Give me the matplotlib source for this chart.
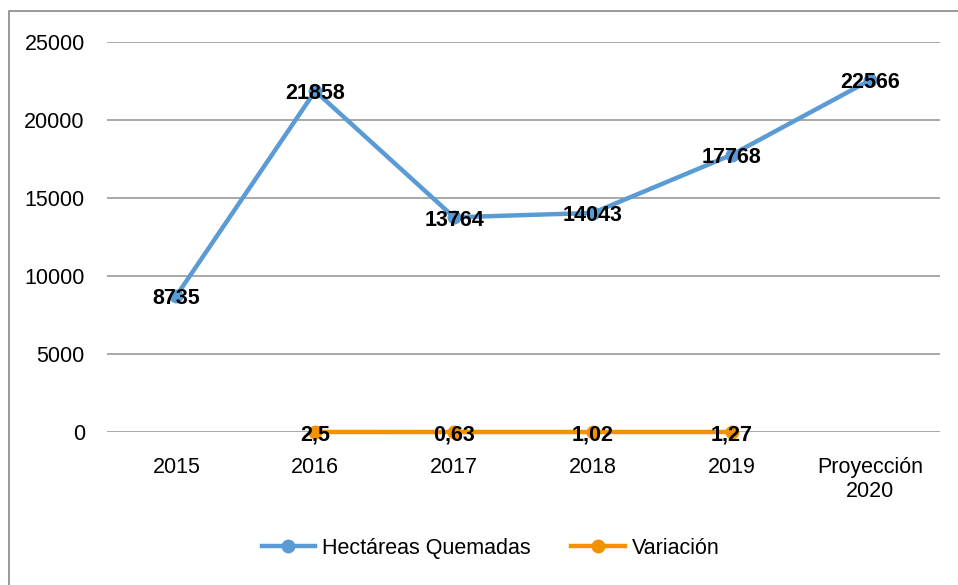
import numpy as np
import matplotlib.pyplot as plt
from matplotlib.patches import Rectangle

plt.rcParams['font.family'] = ['Liberation Sans', 'DejaVu Sans']

# datos
categorias = ['2015', '2016', '2017', '2018', '2019', 'Proyección\n2020']
hectareas = [8735, 21858, 13764, 14043, 17768, 22566]
variacion = [np.nan, 2.5, 0.63, 1.02, 1.27, np.nan]
etiq_variacion = ['', '2,5', '0,63', '1,02', '1,27', '']

azul = '#5B9BD5'
naranja = '#F39200'
fs = 15.5

fig = plt.figure(figsize=(9.58, 5.85), dpi=100)
ax = fig.add_axes([0.1117, 0.2615, 0.8693, 0.6667])

x = np.arange(len(categorias))
ax.plot(x, hectareas, color=azul, lw=3.2, marker='o', ms=9, label='Hectáreas Quemadas',
        clip_on=False, zorder=3)
ax.plot(x, variacion, color=naranja, lw=3.2, marker='o', ms=9, label='Variación',
        clip_on=False, zorder=4)

for xi, v in zip(x, hectareas):
    ax.annotate(str(v), (xi, v), xytext=(0, -2), textcoords='offset points',
                ha='center', va='center', fontsize=fs, fontweight='bold', zorder=5)
for xi, v, t in zip(x, variacion, etiq_variacion):
    if t:
        ax.annotate(t, (xi, v), xytext=(0, -2), textcoords='offset points',
                    ha='center', va='center', fontsize=fs, fontweight='bold', zorder=5)

ax.set_xlim(-0.5, len(categorias) - 0.5)
ax.set_ylim(0, 25000)
ax.set_yticks(np.arange(0, 25001, 5000))
ax.set_xticks(x)
ax.set_xticklabels(categorias)
ax.tick_params(axis='y', length=0, pad=16, labelsize=fs)
ax.tick_params(axis='x', length=0, pad=18, labelsize=fs)
ax.grid(axis='y', color='#999999', lw=1.2)
ax.set_axisbelow(True)
for s in ax.spines.values():
    s.set_visible(False)

fig.legend(loc='center', bbox_to_anchor=(0.512, 0.063), ncol=2, frameon=False,
           fontsize=fs, handlelength=2.5, columnspacing=1.9, handletextpad=0.3)

# marco
fig.patches.append(Rectangle((9 / 958, -0.1), 1.2, 1 - 11 / 585 + 0.1, transform=fig.transFigure,
                             fill=False, edgecolor='#888888', lw=1.2))

fig.savefig('out.png', dpi=100)
